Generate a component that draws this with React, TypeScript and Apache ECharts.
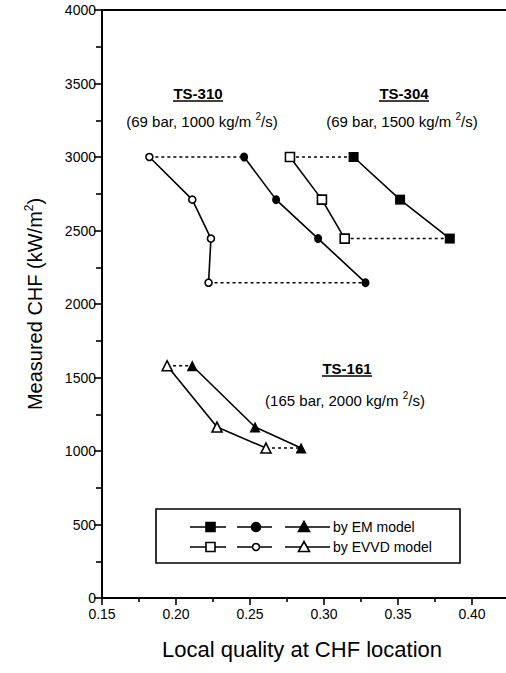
import React, { useEffect, useRef } from "react";
import * as echarts from "echarts";

// x = local quality, y = measured CHF (kW/m2)
const ts310EM = [[0.246, 3000], [0.2676, 2710], [0.296, 2445], [0.328, 2145]];
const ts310EVVD = [[0.182, 3000], [0.211, 2710], [0.2236, 2445], [0.222, 2145]];
const ts304EM = [[0.32, 3000], [0.3514, 2710], [0.385, 2445]];
const ts304EVVD = [[0.277, 3000], [0.2986, 2710], [0.314, 2445]];
const ts161EM = [[0.211, 1580], [0.2534, 1163], [0.2845, 1020]];
const ts161EVVD = [[0.194, 1580], [0.2277, 1163], [0.2608, 1020]];

const caseLabels = ["TS-310", "TS-304", "TS-161"];
const caseConditions = [
  "(69 bar, 1000 kg/m {sup|2}/s)",
  "(69 bar, 1500 kg/m {sup|2}/s)",
  "(165 bar, 2000 kg/m {sup|2}/s)",
];
const legendNames = ["by EM model", "by EVVD model"];
const xTitle = "Local quality at CHF location";
const yTitle = "Measured CHF (kW/m{sup|2})";

const FONT = "Liberation Sans, Arial, Helvetica, sans-serif";

export default function App() {
  const ref = useRef<HTMLDivElement>(null);
  useEffect(() => {
    if (!ref.current) return;
    const chart = echarts.init(ref.current, undefined, { renderer: "svg" });

    const solid = (data: number[][], symbol: string, filled: boolean, size: number | number[]) => ({
      type: "line",
      data,
      symbol,
      symbolSize: size,
      showAllSymbol: true,
      z: 3,
      lineStyle: { color: "#000", width: 1.6 },
      itemStyle: filled
        ? { color: "#000", borderColor: "#000", borderWidth: 0 }
        : { color: "#fff", borderColor: "#000", borderWidth: 1.6 },
    });
    const dotted = (a: number[], b: number[]) => ({
      type: "line",
      data: [a, b],
      symbol: "none",
      z: 2,
      lineStyle: { color: "#000", width: 1.5, type: [3, 3] },
    });

    const sup = { fontSize: 10, padding: [0, 0, 9, 0], fontFamily: FONT, color: "#000" };
    const condStyle = (text: string, x: number, y: number) => ({
      type: "text",
      x,
      y,
      style: {
        text,
        font: `15px ${FONT}`,
        fill: "#000",
        align: "center",
        verticalAlign: "middle",
        rich: { sup },
      },
    });
    const title = (text: string, x: number, y: number) => [
      {
        type: "text",
        x,
        y,
        style: { text, font: `bold 15px ${FONT}`, fill: "#000", align: "center", verticalAlign: "middle" },
      },
      {
        type: "line",
        shape: { x1: x - 25, y1: y + 8, x2: x + 25, y2: y + 8 },
        style: { stroke: "#000", lineWidth: 1.3 },
      },
    ];

    const legendRow = (y: number, filled: boolean, text: string) => {
      const fill = filled ? "#000" : "#fff";
      const segs = [
        [190, 226],
        [237, 272],
        [285, 330],
      ];
      const els: any[] = segs.map(([a, b]) => ({
        type: "line",
        shape: { x1: a, y1: y, x2: b, y2: y },
        style: { stroke: "#000", lineWidth: 1.6 },
      }));
      els.push({
        type: "rect",
        shape: { x: 206, y: y - 4.5, width: 9, height: 9 },
        style: { fill, stroke: "#000", lineWidth: 1.6 },
      });
      els.push({
        type: "circle",
        shape: { cx: 256, cy: y, r: filled ? 4.5 : 3.5 },
        style: { fill, stroke: "#000", lineWidth: 1.6 },
      });
      els.push({
        type: "polygon",
        shape: { points: [[304, y - 5.5], [298.5, y + 4.5], [309.5, y + 4.5]] },
        style: { fill, stroke: "#000", lineWidth: 1.6 },
      });
      els.push({
        type: "text",
        x: 333,
        y,
        style: { text, font: `14px ${FONT}`, fill: "#000", align: "left", verticalAlign: "middle" },
      });
      return els;
    };

    const option: any = {
      animation: false,
      backgroundColor: "#fff",
      grid: { left: 102, top: 10, bottom: 75, right: -40, containLabel: false, outerBoundsMode: "none" },
      xAxis: [
        {
          type: "value",
          min: 0.15,
          max: 0.45,
          interval: 0.05,
          axisLine: { lineStyle: { color: "#000", width: 2 } },
          axisTick: { show: true, inside: false, length: 7, lineStyle: { color: "#000", width: 1.6 } },
          minorTick: { show: true, splitNumber: 2, length: 4, lineStyle: { color: "#000", width: 1.6 } },
          splitLine: { show: false },
          axisLabel: {
            fontFamily: FONT,
            fontSize: 14,
            color: "#000",
            margin: 9,
            formatter: (v: number) => (v > 0.41 ? "" : v.toFixed(2)),
          },
        },
        {
          type: "value",
          position: "top",
          min: 0.15,
          max: 0.45,
          interval: 0.05,
          axisLine: { show: true, lineStyle: { color: "#000", width: 2 } },
          axisTick: { show: false },
          axisLabel: { show: false },
          splitLine: { show: false },
        },
      ],
      yAxis: [
        {
          type: "value",
          min: 0,
          max: 4000,
          interval: 500,
          name: yTitle,
          nameLocation: "middle",
          nameRotate: 90,
          nameGap: 56,
          nameTextStyle: {
            fontFamily: FONT,
            fontSize: 20,
            color: "#000",
            rich: { sup: { fontSize: 12, padding: [0, 0, 11, 0], fontFamily: FONT, color: "#000" } },
          },
          axisLine: { lineStyle: { color: "#000", width: 2 } },
          axisTick: { show: true, inside: false, length: 8, lineStyle: { color: "#000", width: 1.6 } },
          minorTick: { show: true, splitNumber: 2, length: 6, lineStyle: { color: "#000", width: 1.6 } },
          splitLine: { show: false },
          axisLabel: { fontFamily: FONT, fontSize: 14, color: "#000", margin: 6, formatter: (v: number) => String(v) },
        },
      ],
      series: [
        solid(ts310EM, "circle", true, [8, 9]),
        solid(ts310EVVD, "circle", false, 7),
        solid(ts304EM, "rect", true, 10),
        solid(ts304EVVD, "rect", false, 9),
        solid(ts161EM, "triangle", true, 11),
        solid(ts161EVVD, "triangle", false, 10),
        dotted(ts310EVVD[0], ts310EM[0]),
        dotted(ts310EVVD[3], ts310EM[3]),
        dotted(ts304EVVD[0], ts304EM[0]),
        dotted(ts304EVVD[2], ts304EM[2]),
        dotted(ts161EVVD[0], ts161EM[0]),
        dotted(ts161EVVD[2], ts161EM[2]),
      ],
      graphic: [
        {
          type: "text",
          x: 302,
          y: 649,
          style: { text: xTitle, font: `22px ${FONT}`, fill: "#000", align: "center", verticalAlign: "middle" },
        },
        ...title(caseLabels[0], 198, 93),
        condStyle(caseConditions[0], 202, 121),
        ...title(caseLabels[1], 404, 93),
        condStyle(caseConditions[1], 402, 121),
        ...title(caseLabels[2], 347, 368),
        condStyle(caseConditions[2], 345, 400),
        {
          type: "rect",
          shape: { x: 156, y: 509, width: 304, height: 54 },
          style: { fill: "#fff", stroke: "#000", lineWidth: 1.6 },
          z: 10,
        },
        ...legendRow(527, true, legendNames[0]).map((e) => ({ ...e, z: 11 })),
        ...legendRow(547, false, legendNames[1]).map((e) => ({ ...e, z: 11 })),
      ],
    };
    chart.setOption(option);
    return () => chart.dispose();
  }, []);

  return (
    <div
      ref={ref}
      style={{ position: "absolute", left: 0, top: 0, width: 506, height: 673, background: "#fff", overflow: "hidden" }}
    />
  );
}
